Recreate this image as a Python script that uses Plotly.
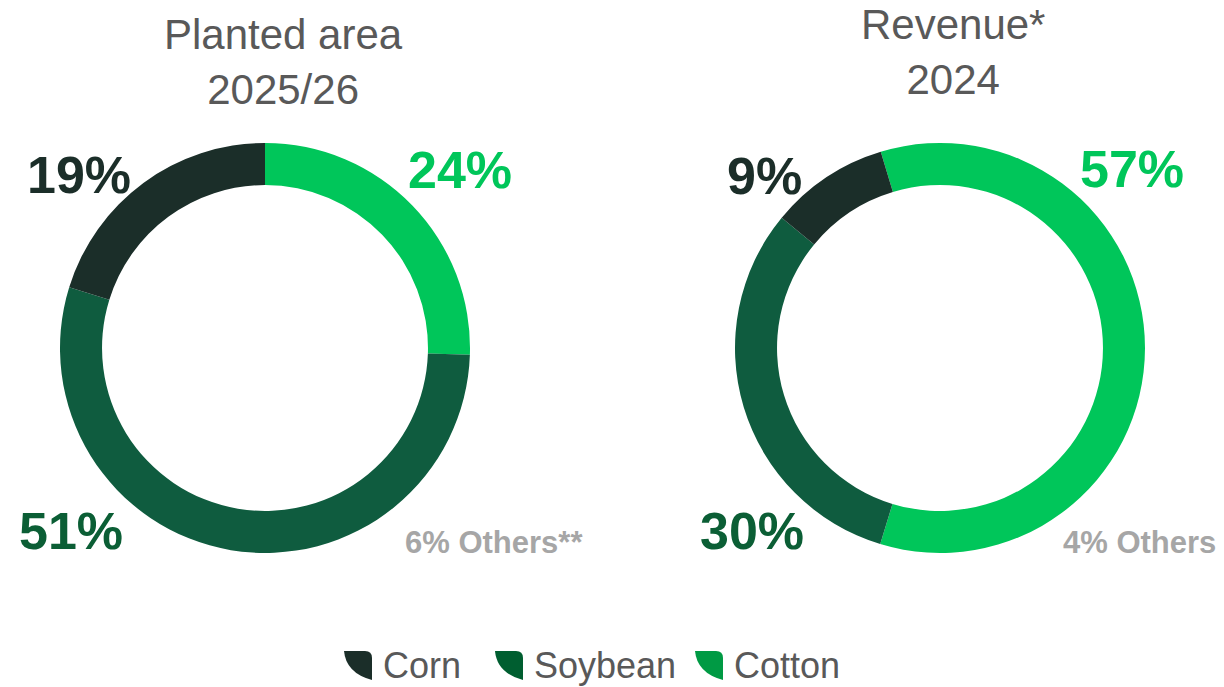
import plotly.graph_objects as go

W, H = 1224, 687

# ---------------- data ----------------
categories = ["Corn", "Soybean", "Cotton"]
planted_area = [19, 51, 24]          # % 2025/26
planted_others = 6
revenue = [9, 30, 57]                # % 2024
revenue_others = 4
chart_titles = ["Planted area<br>2025/26", "Revenue*<br>2024"]
others_suffix = ["Others**", "Others"]

# ---------------- styles ----------------
ring_colors = {"Corn": "#1b2e29", "Soybean": "#0f5c3f", "Cotton": "#00c65a"}
label_colors = {"Corn": "#1b2e29", "Soybean": "#0b5e35", "Cotton": "#00c65a"}
legend_colors = {"Corn": "#1b2e29", "Soybean": "#005e30", "Cotton": "#009a44"}
FONT = "Arial, 'Liberation Sans', sans-serif"
GREY_T = "#595959"
GREY_O = "#a6a6a6"


def px_x(x):
    return x / W


def px_y(y):
    return 1 - y / H


# donut geometry in pixels (centre x, centre y, outer radius, rotation)
donuts = [
    dict(cx=265, cy=348, r=205, rot=0, vals=planted_area, others=planted_others),
    dict(cx=940, cy=348, r=205, rot=-16.8, vals=revenue, others=revenue_others),
]

# label placements (pixel centres) per donut: Corn, Soybean, Cotton, Others
label_pos = [
    {"Corn": (79, 175), "Soybean": (71, 531), "Cotton": (460, 170), "Others": (494, 542)},
    {"Corn": (764, 176), "Soybean": (752, 531), "Cotton": (1132, 169), "Others": (1139, 542)},
]
title_pos = [(283, 62), (953, 52)]

fig = go.Figure()
annotations = []

order = ["Cotton", "Soybean", "Corn"]  # clockwise from start
for d, lp, tp, ttl, suf in zip(donuts, label_pos, title_pos, chart_titles, others_suffix):
    vals = dict(zip(categories, d["vals"]))
    fig.add_trace(go.Pie(
        labels=order,
        values=[vals[c] for c in order],
        marker=dict(colors=[ring_colors[c] for c in order], line=dict(width=0)),
        hole=0.795,
        sort=False,
        direction="clockwise",
        rotation=d["rot"],
        textinfo="none",
        hoverinfo="label+percent",
        showlegend=False,
        domain=dict(x=[px_x(d["cx"] - d["r"]), px_x(d["cx"] + d["r"])],
                    y=[px_y(d["cy"] + d["r"]), px_y(d["cy"] - d["r"])]),
    ))
    for c in categories:
        x, y = lp[c]
        annotations.append(dict(
            text=f"<b>{vals[c]}%</b>", x=px_x(x), y=px_y(y), xref="paper", yref="paper",
            xanchor="center", yanchor="middle", showarrow=False,
            font=dict(family=FONT, size=52, color=label_colors[c])))
    x, y = lp["Others"]
    annotations.append(dict(
        text=f"<b>{d['others']}% {suf}</b>", x=px_x(x), y=px_y(y), xref="paper", yref="paper",
        xanchor="center", yanchor="middle", showarrow=False,
        font=dict(family=FONT, size=31, color=GREY_O)))
    annotations.append(dict(
        text=ttl, x=px_x(tp[0]), y=px_y(tp[1]), xref="paper", yref="paper",
        xanchor="center", yanchor="middle", showarrow=False,
        font=dict(family=FONT, size=42, color=GREY_T)))

# ---------------- custom legend (leaf icons) ----------------
legend_icon_x = [344, 495, 695]
legend_y = 651
shapes = []
for c, x0 in zip(categories, legend_icon_x):
    pts = [(0, 0), (21, 0), (28, 0), (28, 7), (28, 29), (2, 22), (0, 0)]
    P = [(px_x(x0 + a), px_y(legend_y + b)) for a, b in pts]
    path = (f"M {P[0][0]},{P[0][1]} L {P[1][0]},{P[1][1]} "
            f"Q {P[2][0]},{P[2][1]} {P[3][0]},{P[3][1]} L {P[4][0]},{P[4][1]} "
            f"Q {P[5][0]},{P[5][1]} {P[6][0]},{P[6][1]} Z")
    shapes.append(dict(type="path", path=path, xref="paper", yref="paper",
                       fillcolor=legend_colors[c], line=dict(width=0)))
    annotations.append(dict(
        text=c, x=px_x(x0 + 37), y=px_y(legend_y + 14), xref="paper", yref="paper",
        xanchor="left", yanchor="middle", showarrow=False,
        font=dict(family=FONT, size=36, color=GREY_T)))

fig.update_layout(
    width=W, height=H, autosize=False,
    margin=dict(l=0, r=0, t=0, b=0),
    paper_bgcolor="white", plot_bgcolor="white",
    annotations=annotations, shapes=shapes,
)

fig.write_html("out.html", config={"displayModeBar": False},
               post_script="document.body.style.margin='0';")
